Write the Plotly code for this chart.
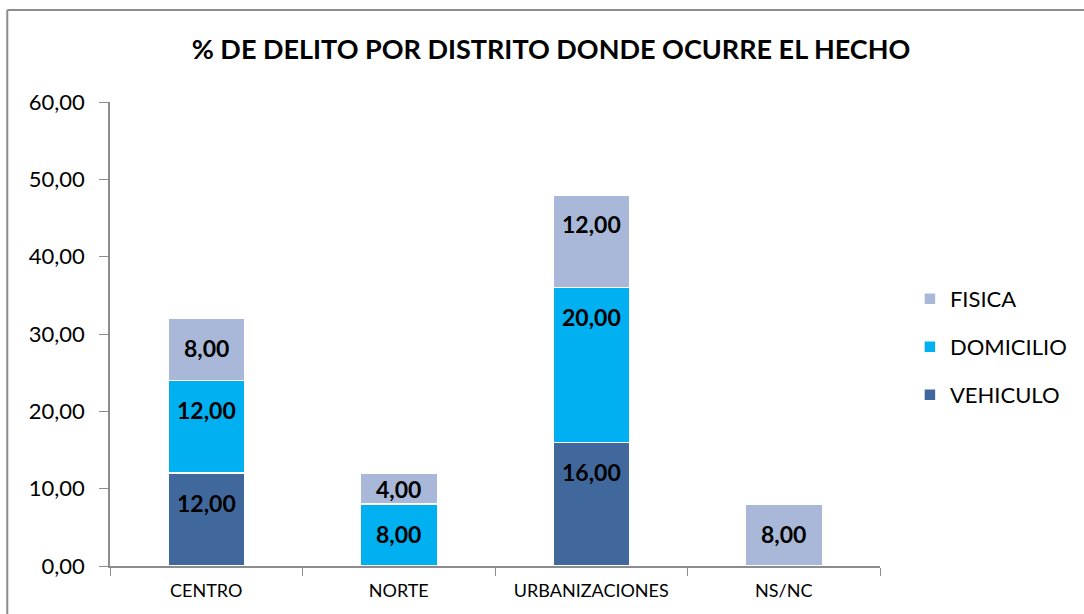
import plotly.graph_objects as go

categories = ["CENTRO", "NORTE", "URBANIZACIONES", "NS/NC"]
vehiculo = [12.0, None, 16.0, None]
domicilio = [12.0, 8.0, 20.0, None]
fisica = [8.0, 4.0, 12.0, 8.0]
series_names = ["VEHICULO", "DOMICILIO", "FISICA"]
y_ticks = [0, 10, 20, 30, 40, 50, 60]

colors = ["#41689C", "#00B0F0", "#A9B8D8"]
series = [vehiculo, domicilio, fisica]

W, H = 1084, 614
L, R, T, B = 110, 202, 102, 48

pw = W - L - R
ph = H - T - B
def px_x(p):
    return (p - L) / pw
def px_y(p):
    return (H - B - p) / ph

legend_ids = ["legend3", "legend2", "legend"]
legend_tops = [395, 347, 299]

fig = go.Figure()
for i, (name, vals, col) in enumerate(zip(series_names, series, colors)):
    fig.add_trace(go.Bar(
        x=categories, y=vals, name=name,
        marker=dict(color=col, line=dict(color="white", width=1.5)),
        legend=legend_ids[i],
        hoverinfo="skip",
    ))

# data labels
annotations = []
base = [0.0] * len(categories)
for vals in series:
    for j, v in enumerate(vals):
        if v is None:
            continue
        ypos = base[j] + v - min(v / 2.0, 3.8)
        annotations.append(dict(
            x=categories[j], y=ypos, xref="x", yref="y",
            text=f"{v:.2f}".replace(".", ","), showarrow=False,
            font=dict(family="Lato", size=23, color="black", weight="bold"),
            xanchor="center", yanchor="middle",
        ))
        base[j] += v

shapes = [
    dict(type="line", xref="paper", yref="paper",
         x0=px_x(7), x1=px_x(7), y0=px_y(10), y1=px_y(640),
         line=dict(color="#8C8C8C", width=2)),
    dict(type="line", xref="paper", yref="paper",
         x0=px_x(7), x1=px_x(1100), y0=px_y(10), y1=px_y(10),
         line=dict(color="#8C8C8C", width=2)),
]

def legend_cfg(ycenter):
    return dict(
        x=px_x(912), xanchor="left",
        y=px_y(ycenter), yanchor="middle",
        font=dict(family="Lato", size=22, color="black"),
        itemwidth=30,
        bgcolor="rgba(0,0,0,0)",
    )

fig.update_layout(
    width=W, height=H,
    margin=dict(l=L, r=R, t=T, b=B, pad=0),
    paper_bgcolor="white", plot_bgcolor="white",
    barmode="stack", bargap=0.6,
    separators=",.",
    font=dict(family="Lato", color="black"),
    title=dict(
        text="<b>% DE DELITO POR DISTRITO DONDE OCURRE EL HECHO</b>",
        x=551 / W, xref="container", xanchor="center",
        y=1 - 50 / H, yref="container", yanchor="middle",
        font=dict(family="Lato", size=27, color="black"),
    ),
    legend=legend_cfg(legend_tops[2]),
    legend2=legend_cfg(legend_tops[1]),
    legend3=legend_cfg(legend_tops[0]),
    xaxis=dict(
        showgrid=False, showline=True, linecolor="#8C8C8C", linewidth=1.5,
        ticks="outside", tickson="boundaries", ticklen=8, tickcolor="#8C8C8C",
        tickfont=dict(family="Lato", size=18, color="black"),
        ticklabelstandoff=8,
        fixedrange=True,
    ),
    yaxis=dict(
        range=[0, 60], tickvals=y_ticks, tickformat=".2f",
        showgrid=False, showline=True, linecolor="#8C8C8C", linewidth=1.5,
        ticks="outside", ticklen=9, tickcolor="#8C8C8C",
        tickfont=dict(family="Lato", size=22, color="black"),
        ticklabelstandoff=10,
        zeroline=False, fixedrange=True,
    ),
    annotations=annotations,
    shapes=shapes,
    showlegend=True,
)

fig.write_html("out.html", config={"displayModeBar": False},
               post_script="document.body.style.margin='0';")
